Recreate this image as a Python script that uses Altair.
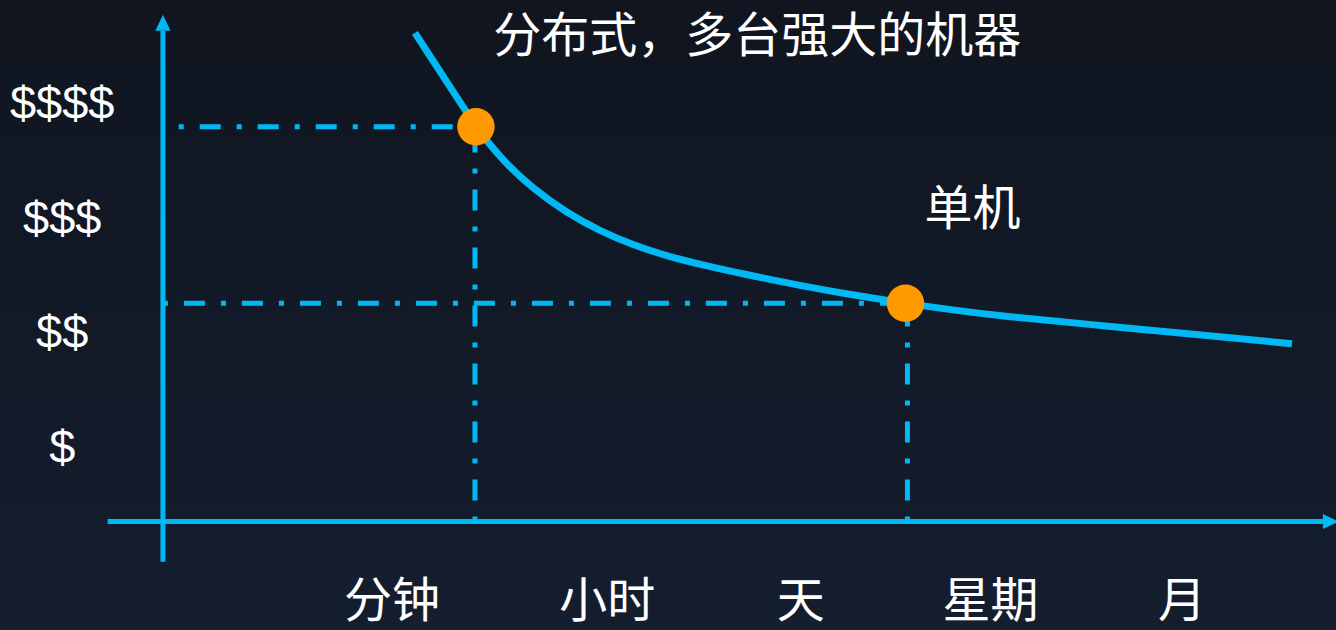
import altair as alt
import pandas as pd

# ---- data ----
time_labels = ["分钟", "小时", "天", "星期", "月"]
time_pos = [1.0, 2.09, 3.07, 4.03, 5.0]
cost_labels = ["$", "$$", "$$$", "$$$$"]
cost_pos = [1, 2, 3, 4]

curve_u = [1.116, 1.380, 1.425, 1.547, 1.714, 1.886, 2.053, 2.220, 2.392, 2.559,
           2.813, 3.066, 3.319, 3.597, 3.825, 4.078, 4.585, 5.091, 5.557]
curve_v = [4.611, 3.913, 3.793, 3.520, 3.250, 3.041, 2.884, 2.762, 2.666, 2.592,
           2.496, 2.408, 2.330, 2.253, 2.198, 2.143, 2.060, 1.978, 1.900]

point_names = ["分布式", "单机"]
point_u = [1.425, 3.60]
point_v = [3.793, 2.253]

title_text = "分布式，多台强大的机器"
title_u, title_v = 2.85, 4.57
single_text = "单机"
single_u, single_v = 3.94, 3.06

AXIS_X_LEVEL = 0.35     # value level where the horizontal axis sits
AXIS_Y_POS = -0.16      # position where the vertical axis sits
X_LABEL_V = -0.36
Y_LABEL_U = -0.67

BLUE = "#00B8F4"
ORANGE = "#FF9900"

xs = alt.Scale(domain=[-0.985, 5.78], nice=False, zero=False)
ys = alt.Scale(domain=[-0.596, 4.898], nice=False, zero=False)

def X(f="u"):
    return alt.X(f"{f}:Q", scale=xs, axis=None)

def Y(f="v"):
    return alt.Y(f"{f}:Q", scale=ys, axis=None)

# background gradient
bg = alt.Chart(pd.DataFrame({"a": [0]})).mark_rect(
    color=alt.Gradient(
        gradient="linear",
        stops=[alt.GradientStop(color="#10151f", offset=0),
               alt.GradientStop(color="#141e2f", offset=1)],
        x1=0, x2=0, y1=0, y2=1,
    )
).encode(x=alt.value(0), x2=alt.value(1336), y=alt.value(0), y2=alt.value(630))

# axis lines
axes_df = pd.DataFrame({
    "u": [AXIS_Y_POS, -0.44],
    "u2": [AXIS_Y_POS, 5.73],
    "v": [0.0, AXIS_X_LEVEL],
    "v2": [4.63, AXIS_X_LEVEL],
})
axes = alt.Chart(axes_df).mark_rule(color=BLUE, strokeWidth=5).encode(
    x=X(), x2="u2:Q", y=Y(), y2="v2:Q"
)

arrow_df = pd.DataFrame({
    "u": [AXIS_Y_POS, 5.754],
    "v": [4.70, AXIS_X_LEVEL],
    "shape": ["M-0.95,1L0,-1L0.95,1Z", "M-1,-0.95L1,0L-1,0.95Z"],
})
arrows = alt.Chart(arrow_df).mark_point(
    filled=True, color=BLUE, opacity=1, size=256, strokeWidth=0
).encode(x=X(), y=Y(), shape=alt.Shape("shape:N", scale=None))

# dash-dot guides
guide_df = pd.DataFrame({
    "u": [AXIS_Y_POS + 0.08, AXIS_Y_POS, point_u[0] - 0.005, point_u[1] + 0.01],
    "u2": [point_u[0], point_u[1], point_u[0] - 0.005, point_u[1] + 0.01],
    "v": [point_v[0], point_v[1], AXIS_X_LEVEL, AXIS_X_LEVEL],
    "v2": [point_v[0], point_v[1], point_v[0], point_v[1]],
})
guides = alt.Chart(guide_df).mark_rule(
    color=BLUE, strokeWidth=5, strokeDash=[5, 16, 21, 16]
).encode(x=X(), x2="u2:Q", y=Y(), y2="v2:Q")

curve = alt.Chart(pd.DataFrame({"u": curve_u, "v": curve_v})).mark_line(
    color=BLUE, strokeWidth=7, interpolate="basis"
).encode(x=X(), y=Y(), order="u:Q")

points = alt.Chart(pd.DataFrame({"name": point_names, "u": point_u, "v": point_v})).mark_circle(
    color=ORANGE, opacity=1, size=1400
).encode(x=X(), y=Y())

xlabels = alt.Chart(pd.DataFrame({"t": time_labels, "u": time_pos, "v": [X_LABEL_V] * 5})).mark_text(
    font="Noto Sans CJK SC", fontSize=48, color="white", align="center", baseline="middle"
).encode(x=X(), y=Y(), text="t:N")

ylabels = alt.Chart(pd.DataFrame({"t": cost_labels, "v": cost_pos, "u": [Y_LABEL_U] * 4})).mark_text(
    font="Liberation Sans", fontSize=47, color="white", align="center", baseline="middle", dy=2
).encode(x=X(), y=Y(), text="t:N")

notes = alt.Chart(pd.DataFrame({
    "t": [title_text, single_text], "u": [title_u, single_u], "v": [title_v, single_v]
})).mark_text(
    font="Noto Sans CJK SC", fontSize=48, color="white", align="center", baseline="middle"
).encode(x=X(), y=Y(), text="t:N")

chart = alt.layer(bg, guides, axes, arrows, curve, points, xlabels, ylabels, notes).properties(
    width=1336, height=630, padding=0,
    autosize=alt.AutoSizeParams(type="none"),
    background="#121a27",
).configure_view(stroke=None)

chart.save("out.html", embed_options={"renderer": "svg", "actions": False})
